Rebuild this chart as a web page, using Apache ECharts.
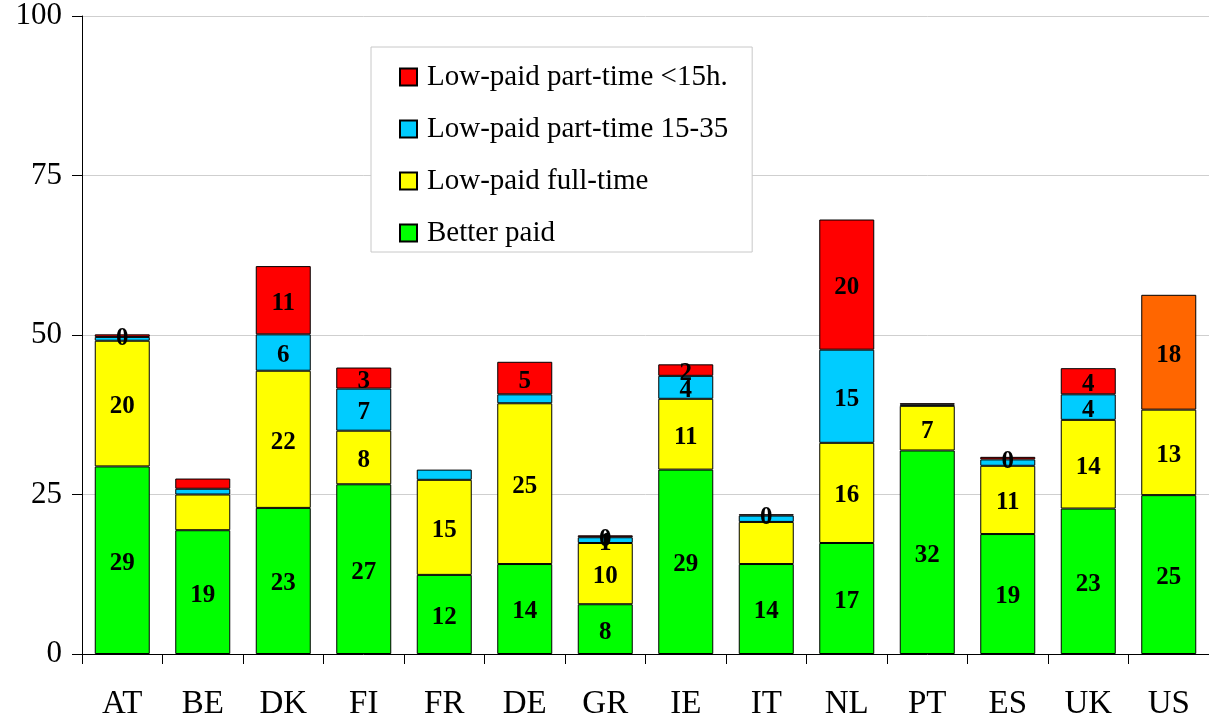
<!DOCTYPE html>
<html>
<head>
<meta charset="utf-8">
<script src="https://cdn.jsdelivr.net/npm/echarts@6/dist/echarts.min.js"></script>
<style>
  html, body { margin: 0; padding: 0; background: #fff; }
  #main { width: 1209px; height: 721px; }
</style>
</head>
<body>
<div id="main"></div>
<script>
// values (percent of employment)
var countries = ['AT', 'BE', 'DK', 'FI', 'FR', 'DE', 'GR', 'IE', 'IT', 'NL', 'PT', 'ES', 'UK', 'US'];
var betterPaid = [29.4, 19.4, 22.9, 26.6, 12.4, 14.1, 7.8, 28.9, 14.1, 17.4, 31.9, 18.8, 22.8, 24.9];
var lowFullTime = [19.7, 5.6, 21.5, 8.4, 14.9, 25.2, 9.6, 11.1, 6.6, 15.7, 7.0, 10.7, 13.9, 13.4];
var lowPart1535 = [0.6, 0.9, 5.7, 6.6, 1.6, 1.4, 0.9, 3.6, 1.0, 14.6, 0.2, 1.0, 4.0, null];
var lowPartUnder15 = [0.4, 1.6, 10.7, 3.3, null, 5.1, 0.3, 1.8, 0.2, 20.4, 0.2, 0.4, 4.1, 18.0];
var yTicks = [0, 25, 50, 75, 100];

// labels that the original leaves off
var hiddenLabels = {
  lowFullTime: ['BE', 'IT'],
  lowPart1535: ['AT', 'BE', 'FR', 'DE', 'IT', 'PT', 'ES'],
  lowPartUnder15: ['BE', 'PT']
};

var serif = 'Liberation Serif';

function items(values, key, colorOverride) {
  var hide = hiddenLabels[key] || [];
  return values.map(function (v, i) {
    var d = { value: v };
    if (hide.indexOf(countries[i]) >= 0) d.label = { show: false };
    if (colorOverride && colorOverride[countries[i]]) d.itemStyle = { color: colorOverride[countries[i]] };
    return d;
  });
}

function makeSeries(name, values, key, color, override) {
  return {
    name: name,
    type: 'bar',
    stack: 'total',
    barWidth: 55,
    data: items(values, key, override),
    itemStyle: { color: color, borderColor: '#000', borderWidth: 1 },
    label: {
      show: true,
      position: 'inside',
      offset: [0, 3],
      color: '#000',
      fontFamily: serif,
      fontWeight: 'bold',
      fontSize: 25,
      formatter: function (p) { return Math.round(p.value); }
    },
    emphasis: { disabled: true }
  };
}

var chart = echarts.init(document.getElementById('main'));
chart.setOption({
  animation: false,
  backgroundColor: '#fff',
  grid: { left: 82, right: 0, top: 16, bottom: 66 },
  legend: {
    orient: 'vertical',
    left: 371,
    top: 47,
    data: ['Low-paid part-time <15h.', 'Low-paid part-time 15-35', 'Low-paid full-time', 'Better paid'],
    icon: 'rect',
    itemWidth: 17,
    itemHeight: 17,
    itemGap: 22,
    padding: [15, 24, 4, 28],
    backgroundColor: '#fff',
    borderColor: '#c8c8c8',
    borderWidth: 1,
    textStyle: { fontFamily: serif, fontSize: 29, color: '#000', lineHeight: 30, padding: [0, 0, 0, 5] }
  },
  xAxis: {
    type: 'category',
    data: countries,
    axisLine: { lineStyle: { color: '#000', width: 1 } },
    axisTick: { show: true, length: 10, lineStyle: { color: '#000' } },
    axisLabel: { fontFamily: serif, fontSize: 33, color: '#000', margin: 34 }
  },
  yAxis: {
    type: 'value',
    min: yTicks[0],
    max: yTicks[yTicks.length - 1],
    interval: yTicks[1] - yTicks[0],
    axisLine: { show: true, lineStyle: { color: '#000', width: 1 } },
    axisTick: { show: true, length: 10, lineStyle: { color: '#000' } },
    axisLabel: { fontFamily: serif, fontSize: 31, color: '#000', margin: 20 },
    splitLine: { show: true, lineStyle: { color: '#cfcfcf', width: 1 } }
  },
  series: [
    makeSeries('Better paid', betterPaid, 'betterPaid', '#00ff00'),
    makeSeries('Low-paid full-time', lowFullTime, 'lowFullTime', '#ffff00'),
    makeSeries('Low-paid part-time 15-35', lowPart1535, 'lowPart1535', '#00ccff'),
    makeSeries('Low-paid part-time <15h.', lowPartUnder15, 'lowPartUnder15', '#ff0000', { US: '#ff6600' })
  ]
});
</script>
</body>
</html>
